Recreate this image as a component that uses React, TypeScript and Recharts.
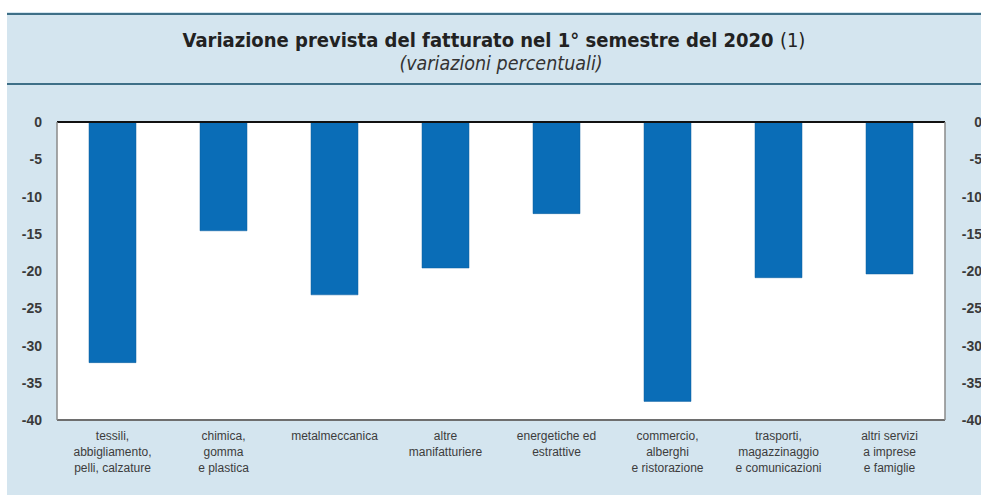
import { ComposedChart, Bar, Line, XAxis, YAxis, CartesianGrid, ReferenceLine } from 'recharts';

const categories = [
  ['tessili,', 'abbigliamento,', 'pelli, calzature'],
  ['chimica,', 'gomma', 'e plastica'],
  ['metalmeccanica'],
  ['altre', 'manifatturiere'],
  ['energetiche ed', 'estrattive'],
  ['commercio,', 'alberghi', 'e ristorazione'],
  ['trasporti,', 'magazzinaggio', 'e comunicazioni'],
  ['altri servizi', 'a imprese', 'e famiglie'],
];
const values = [-32.3, -14.6, -23.2, -19.6, -12.3, -37.5, -20.9, -20.4];
const yTicks = [0, -5, -10, -15, -20, -25, -30, -35, -40];

const data = categories.map((c, i) => ({ name: c.join('|'), value: values[i] }));

const font = '"Liberation Sans", Arial, sans-serif';
const lineColor = '#3e6f87';

const CategoryTick = ({ x, y, payload }: any) => {
  const lines = String(payload.value).split('|');
  return (
    <text x={x} y={y} textAnchor="middle" fontFamily={font} fontSize={12} fill="#3c3c3c">
      {lines.map((l, i) => (
        <tspan key={i} x={x} dy={i === 0 ? 12 : 16}>
          {l}
        </tspan>
      ))}
    </text>
  );
};

const LeftTick = ({ x, y, payload }: any) => (
  <text x={x} y={y} dy={5} textAnchor="end" fontFamily={font} fontSize={14} fontWeight="bold" fill="#3a3a3a">
    {payload.value}
  </text>
);

const RightTick = ({ x, y, payload }: any) => (
  <text x={x} y={y} dy={5} dx={37} textAnchor="end" fontFamily={font} fontSize={14} fontWeight="bold" fill="#3a3a3a">
    {payload.value}
  </text>
);

export default function App() {
  return (
    <div style={{ position: 'absolute', left: 0, top: 0, width: 981, height: 495, background: '#fff', overflow: 'hidden' }}>
      <div style={{ position: 'absolute', left: 7, top: 12, width: 974, height: 483, background: '#d4e5ef' }} />
      <div style={{ position: 'absolute', left: 7, top: 13, width: 974, height: 2, background: lineColor }} />
      <div style={{ position: 'absolute', left: 7, top: 83, width: 974, height: 2, background: lineColor }} />
      <div
        style={{
          position: 'absolute',
          left: 0,
          top: 28,
          width: 988,
          textAlign: 'center',
          fontFamily: '"Liberation Sans Narrow", "DejaVu Sans Condensed", sans-serif',
          fontSize: 20,
          fontWeight: 'bold',
          color: '#222',
          lineHeight: '24px',
        }}
      >
        Variazione prevista del fatturato nel 1° semestre del 2020 <span style={{ fontWeight: 'normal' }}>(1)</span>
      </div>
      <div
        style={{
          position: 'absolute',
          left: 0,
          top: 53,
          width: 1002,
          textAlign: 'center',
          fontFamily: '"Liberation Sans Narrow", "DejaVu Sans Condensed", sans-serif',
          fontSize: 19.5,
          fontStyle: 'italic',
          color: '#333',
          lineHeight: '22px',
        }}
      >
        (variazioni percentuali)
      </div>
      <div style={{ position: 'absolute', left: 0, top: 0 }}>
        <ComposedChart width={981} height={495} data={data} margin={{ top: 122, right: 0, bottom: 15, left: 0 }}>
          <CartesianGrid horizontal vertical={false} stroke="#cfcfcf" fill="#ffffff" strokeWidth={1.5} />
          <XAxis
            dataKey="name"
            interval={0}
            height={60}
            tickLine={false}
            axisLine={{ stroke: '#6e6e6e', strokeWidth: 2 }}
            tick={<CategoryTick />}
          />
          <YAxis
            yAxisId="left"
            domain={[-40, 0]}
            ticks={yTicks}
            width={57}
            tickLine={false}
            tickSize={0}
            tickMargin={15}
            axisLine={{ stroke: '#8a8a8a', strokeWidth: 1.5 }}
            tick={<LeftTick />}
          />
          <YAxis
            yAxisId="right"
            orientation="right"
            domain={[-40, 0]}
            ticks={yTicks}
            width={36}
            tickLine={false}
            tickSize={0}
            tickMargin={0}
            axisLine={{ stroke: '#8a8a8a', strokeWidth: 1.5 }}
            tick={<RightTick />}
          />
          <Bar yAxisId="left" dataKey="value" fill="#0a6db7" stroke="#0d5f9e" strokeWidth={0.5} barSize={47} isAnimationActive={false} />
          <Line yAxisId="right" dataKey="value" stroke="none" dot={false} activeDot={false} isAnimationActive={false} />
          <ReferenceLine yAxisId="left" y={0} stroke="#111" strokeWidth={2} />
        </ComposedChart>
      </div>
    </div>
  );
}
